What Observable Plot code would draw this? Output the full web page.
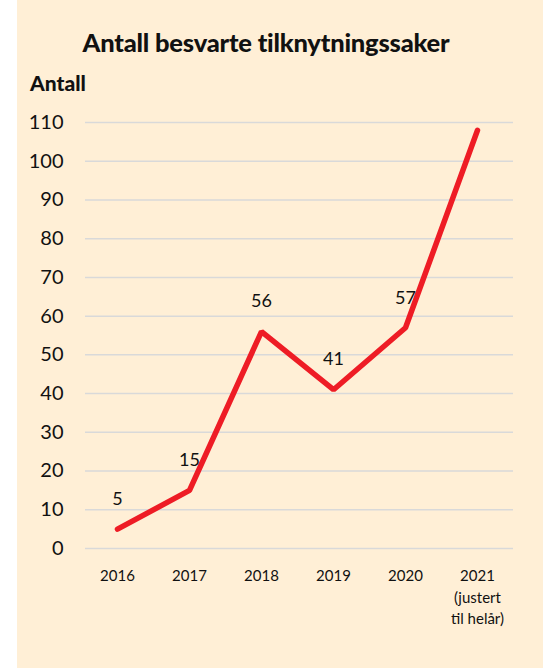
<!DOCTYPE html>
<html>
<head>
<meta charset="utf-8">
<script src="https://cdn.jsdelivr.net/npm/d3@7"></script>
<script src="https://cdn.jsdelivr.net/npm/@observablehq/plot@0.6"></script>
<style>
  html, body { margin: 0; padding: 0; background: #fff; }
  #wrap { position: absolute; left: 17px; top: 0; width: 526px; height: 668px; background: #FFEFD6; font-family: Lato, "Open Sans", sans-serif; color: #111; }
  #title { position: absolute; top: 27px; left: 0; width: 498px; text-align: center; font-weight: 900; font-size: 25.5px; letter-spacing: -0.2px; }
  #ylab { position: absolute; top: 70px; left: 13px; font-weight: 900; font-size: 21px; }
  #chart { position: absolute; top: 100px; left: 0; }
</style>
</head>
<body>
<div id="wrap">
  <div id="title">Antall besvarte tilknytningssaker</div>
  <div id="ylab">Antall</div>
  <div id="chart"></div>
</div>
<script>
const years = [2016, 2017, 2018, 2019, 2020, 2021];
const values = [5, 15, 56, 41, 57, 108];
const pointLabels = ["5", "15", "56", "41", "57", null];
const yTicks = [0, 10, 20, 30, 40, 50, 60, 70, 80, 90, 100, 110];
const xTickLabels = ["2016", "2017", "2018", "2019", "2020", "2021\n(justert\ntil helår)"];

const data = years.map((y, i) => ({year: y, value: values[i], label: pointLabels[i]}));

const chart = Plot.plot({
  width: 526,
  height: 568,
  marginTop: 22,
  marginBottom: 120,
  marginLeft: 64,
  marginRight: 30,
  style: {background: "transparent", fontFamily: "Lato, 'Open Sans', sans-serif", color: "#111"},
  x: {type: "point", domain: years, padding: 0.5},
  y: {domain: [0, 110], ticks: yTicks},
  marks: [
    Plot.ruleY(yTicks, {stroke: "#D9D9D9", strokeWidth: 1.5, insetLeft: 4}),
    Plot.axisY({ticks: yTicks, tickSize: 0, tickPadding: 18, fontSize: 20, label: null, fill: "#111"}),
    Plot.axisX({tickSize: 0, tickPadding: 17, fontSize: 15, label: null, fill: "#111", lineHeight: 1.45,
      tickFormat: d => xTickLabels[years.indexOf(d)]}),
    Plot.line(data, {x: "year", y: "value", stroke: "#EE1C25", strokeWidth: 5.5, strokeLinecap: "round", strokeLinejoin: "miter"}),
    Plot.text(data.filter(d => d.label != null), {x: "year", y: "value", text: "label", dy: -30, fontSize: 18, fill: "#111"})
  ]
});
document.getElementById("chart").appendChild(chart);
</script>
</body>
</html>
